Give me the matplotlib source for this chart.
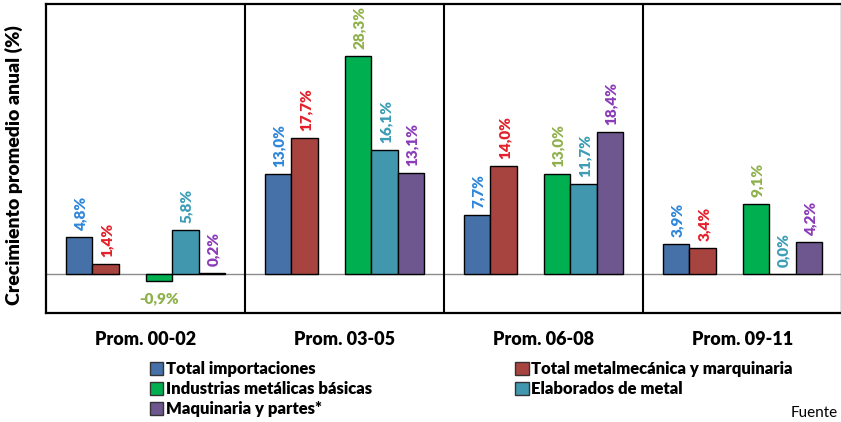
import matplotlib
matplotlib.use("Agg")
import matplotlib.pyplot as plt
from matplotlib.patches import Patch
import numpy as np

plt.rcParams['font.family'] = ['Lato', 'DejaVu Sans']

periods = ["Prom. 00-02", "Prom. 03-05", "Prom. 06-08", "Prom. 09-11"]
series_names = [
    "Total importaciones",
    "Total metalmecánica y marquinaria",
    "Industrias metálicas básicas",
    "Elaborados de metal",
    "Maquinaria y partes*",
]
total_importaciones = [4.8, 13.0, 7.7, 3.9]
total_metalmecanica = [1.4, 17.7, 14.0, 3.4]
industrias_basicas = [-0.9, 28.3, 13.0, 9.1]
elaborados_metal = [5.8, 16.1, 11.7, 0.0]
maquinaria_partes = [0.2, 13.1, 18.4, 4.2]

values = [total_importaciones, total_metalmecanica, industrias_basicas,
          elaborados_metal, maquinaria_partes]
bar_colors = ["#4670A8", "#A8443F", "#00AF50", "#4197AE", "#6E568E"]
label_colors = ["#2F86DA", "#E4202A", "#8FB14C", "#3C9DB6", "#8B3CB8"]
# six slots per group; the third slot stays empty
slots = [-2.5, -1.5, 0.5, 1.5, 2.5]

WEIGHT = "heavy"

fig = plt.figure(figsize=(8.41, 4.22), dpi=100)
ax = fig.add_axes([46 / 841, 109 / 422, 796 / 841, 309 / 422])

w = 0.1335
x = np.arange(len(periods))
for vals, slot, bc, lc in zip(values, slots, bar_colors, label_colors):
    xs = x + slot * w
    ax.bar(xs, vals, width=w, color=bc, edgecolor="black", linewidth=1.0, zorder=3)
    for xi, v in zip(xs, vals):
        txt = f"{v:.1f}%".replace(".", ",")
        if v >= 0:
            ax.annotate(txt, (xi, v), xytext=(1, 5), textcoords="offset points",
                        ha="center", va="bottom", rotation=90, color=lc,
                        fontsize=11, fontweight=WEIGHT, zorder=4)
        else:
            ax.annotate(txt, (xi, v), xytext=(0, -8), textcoords="offset points",
                        ha="center", va="top", color=lc,
                        fontsize=11, fontweight=WEIGHT, zorder=4)

ax.axhline(0, color="#8c8c8c", linewidth=1.0, zorder=2)
for b in x[:-1] + 0.5:
    ax.axvline(b, color="black", linewidth=1.5, zorder=2)

ax.set_xlim(-0.5, len(periods) - 0.5)
ax.set_ylim(-5, 35)
ax.set_yticks([])
ax.set_xticks(x)
ax.set_xticklabels(periods, fontsize=13, fontweight=WEIGHT)
ax.tick_params(axis="x", length=0, pad=13)
for s in ax.spines.values():
    s.set_linewidth(1.6)
    s.set_color("black")

fig.text(14 / 841, 1 - 165 / 422, "Crecimiento promedio anual (%)", rotation=90,
         ha="center", va="center", fontsize=14, fontweight=WEIGHT)

order = [0, 2, 4, 1, 3]
handles = [Patch(facecolor=bar_colors[i], edgecolor="#333333", linewidth=1.0,
                 label=series_names[i]) for i in order]
fig.legend(handles=handles, ncol=2, loc="upper left",
           bbox_to_anchor=(150 / 841, 1 - 361 / 422), frameon=False,
           prop={"size": 12, "weight": WEIGHT}, handlelength=0.8,
           handleheight=0.8, handletextpad=0.15, labelspacing=0.25,
           columnspacing=8.6, borderpad=0, borderaxespad=0)

fig.text(838 / 841, 1 - 413 / 422, "Fuente", fontsize=11, ha="right", va="center")

fig.savefig("out.png", dpi=100)
